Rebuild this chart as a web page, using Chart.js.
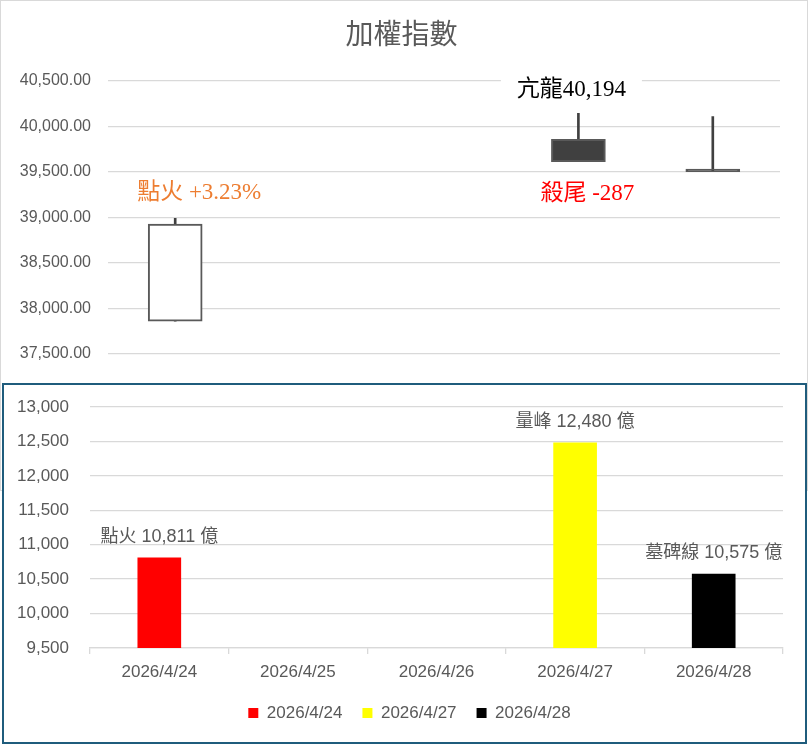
<!DOCTYPE html>
<html>
<head>
<meta charset="utf-8">
<script src="https://cdn.jsdelivr.net/npm/chart.js@4.4.1/dist/chart.umd.min.js"></script>
<style>
html,body{margin:0;padding:0;background:#fff;}
.frame{position:absolute;left:0;top:0;width:808px;height:491px;box-sizing:border-box;border:1px solid #d9d9d9;}
.top{position:absolute;left:0;top:0;width:808px;height:383px;}
.bottom{position:absolute;left:2px;top:383px;width:805px;height:361px;box-sizing:border-box;border:2px solid #1f5c7c;background:#fff;}
.bottom .box{position:absolute;left:0;top:0;width:801px;height:357px;}
</style>
</head>
<body>
<div class="frame"></div>
<div class="top"><canvas id="indexChart"></canvas></div>
<div class="bottom"><div class="box"><canvas id="volumeChart"></canvas></div></div>
<script>
// dates on both charts
const dates=['2026/4/24','2026/4/25','2026/4/26','2026/4/27','2026/4/28'];
// index candles (no trading on 4/25, 4/26)
const openV=[37860,null,null,39855,39530];
const highV=[38990,null,null,40140,40105];
const lowV=[37860,null,null,39610,39502];
const closeV=[38925,null,null,39610,39502];
const indexTicks=[37500,38000,38500,39000,39500,40000,40500];
// notes on the candle chart: text, day index, value it hangs from
const noteText=['點火 +3.23%','亢龍40,194','殺尾 -287'];
const noteDay=[0,3,3];
const noteValue=[38990,40140,39610];
// turnover (億)
const volDates=['2026/4/24','2026/4/27','2026/4/28'];
const volValues=[10811,12480,10575];
const volNames=['點火','量峰','墓碑線'];
const volTicks=[9500,10000,10500,11000,11500,12000,12500,13000];

const GRAY='#595959',GRID='#d9d9d9';
const SANS="'Liberation Sans','Noto Sans CJK TC',sans-serif";
const SERIF="'Liberation Serif','Noto Sans CJK TC',serif";
Chart.defaults.font.family=SANS;
Chart.defaults.color=GRAY;
Chart.defaults.animation=false;

// slide title / legend sideways after layout (they centre on the whole canvas otherwise)
const nudge=(box,dx)=>({id:'nudge'+box,afterLayout(chart){const b=chart[box];if(b){b.left+=dx;b.right+=dx;}}});

const noteStyle=[
  {color:'#ed7d31',dx:24,dy:-25,bg:false},
  {color:'#000000',dx:-7,dy:-23,bg:true,w:141},
  {color:'#ff0000',dx:9,dy:32,bg:true,w:124}
];
const candleNotes={
  id:'candleNotes',
  afterDatasetsDraw(chart){
    const {ctx,scales:{x,y}}=chart;
    ctx.save();
    ctx.font='23px '+SERIF;
    ctx.textAlign='center';ctx.textBaseline='middle';
    noteText.forEach((t,i)=>{
      const s=noteStyle[i];
      const cx=x.getPixelForValue(noteDay[i])+s.dx;
      const cy=y.getPixelForValue(noteValue[i])+s.dy;
      if(s.bg){ctx.fillStyle='#fff';ctx.fillRect(cx-s.w/2,cy-15,s.w,30);}
      ctx.fillStyle=s.color;
      ctx.fillText(t,cx,cy);
    });
    ctx.restore();
  }
};

const isUp=i=>closeV[i]!=null&&closeV[i]>=openV[i];
new Chart(document.getElementById('indexChart'),{
  type:'bar',
  data:{labels:dates,datasets:[
    {label:'body',order:0,grouped:false,barThickness:54,borderWidth:2,borderSkipped:false,borderColor:'#595959',
      backgroundColor:dates.map((d,i)=>isUp(i)?'#ffffff':'#404040'),
      data:dates.map((d,i)=>openV[i]==null?null:[openV[i],closeV[i]])},
    {label:'wick',order:1,grouped:false,barThickness:2,backgroundColor:'#404040',borderWidth:0,
      data:dates.map((d,i)=>highV[i]==null?null:[lowV[i],highV[i]])}
  ]},
  options:{
    responsive:true,maintainAspectRatio:false,
    layout:{padding:{left:0,right:28,top:0,bottom:29}},
    plugins:{
      legend:{display:false},tooltip:{enabled:false},
      title:{display:true,text:'加權指數',color:GRAY,font:{size:28,weight:'normal',family:"'Noto Sans CJK TC',sans-serif"},padding:{top:17,bottom:30}}
    },
    scales:{
      x:{display:false,offset:true},
      y:{min:indexTicks[0],max:indexTicks[indexTicks.length-1],
        afterFit:s=>{s.width=108;},
        afterBuildTicks:s=>{s.ticks=indexTicks.map(v=>({value:v}));},
        border:{display:false},
        grid:{color:GRID,lineWidth:1.3,drawTicks:true,tickLength:17,tickColor:'rgba(0,0,0,0)'},
        ticks:{padding:0,color:GRAY,font:{size:16},callback:v=>v.toLocaleString('en-US',{minimumFractionDigits:2,maximumFractionDigits:2})}}
    }
  },
  plugins:[candleNotes,nudge('titleBlock',11.5)]
});

const volLabels={
  id:'volLabels',
  afterDatasetsDraw(chart){
    const {ctx}=chart;
    ctx.save();
    ctx.font='18px '+SANS;
    ctx.fillStyle=GRAY;ctx.textAlign='center';ctx.textBaseline='middle';
    chart.data.datasets.forEach((ds,i)=>{
      const meta=chart.getDatasetMeta(i);
      ds.data.forEach((v,j)=>{
        if(v==null)return;
        const bar=meta.data[j];
        ctx.fillText(volNames[i]+' '+v.toLocaleString('en-US')+' 億',bar.x,bar.y-21);
      });
    });
    ctx.restore();
  }
};

const volColors=['#ff0000','#ffff00','#000000'];
new Chart(document.getElementById('volumeChart'),{
  type:'bar',
  data:{labels:dates,datasets:volDates.map((d,i)=>({
    label:d,backgroundColor:volColors[i],grouped:false,barThickness:43,
    data:dates.map(x=>x===d?volValues[i]:null)
  }))},
  options:{
    responsive:true,maintainAspectRatio:false,
    layout:{padding:{left:0,right:22,top:22,bottom:10.5}},
    plugins:{
      tooltip:{enabled:false},
      legend:{position:'bottom',labels:{boxWidth:10,boxHeight:10,padding:20,color:GRAY,font:{size:17}}}
    },
    scales:{
      x:{afterFit:s=>{s.height=36.5;},
        border:{display:true,color:GRID,width:1.3},
        grid:{display:true,drawOnChartArea:false,drawTicks:true,tickLength:6,color:GRID,lineWidth:1.3,offset:true},
        ticks:{padding:8,color:GRAY,font:{size:17},maxRotation:0}},
      y:{min:volTicks[0],max:volTicks[volTicks.length-1],
        afterFit:s=>{s.width=86;},
        afterBuildTicks:s=>{s.ticks=volTicks.map(v=>({value:v}));},
        border:{display:false},
        grid:{color:GRID,lineWidth:1.3,drawTicks:true,tickLength:21,tickColor:'rgba(0,0,0,0)'},
        ticks:{padding:0,color:GRAY,font:{size:17},callback:v=>v.toLocaleString('en-US')}}
    }
  },
  plugins:[volLabels,nudge('legend',16)]
});
</script>
</body>
</html>
